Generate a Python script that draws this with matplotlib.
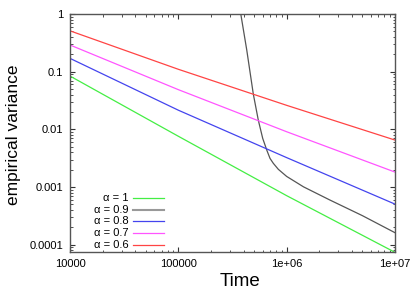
import numpy as np
import matplotlib
matplotlib.use("Agg")
import matplotlib.pyplot as plt
from matplotlib.ticker import FixedLocator, LogLocator, NullFormatter

plt.rcParams['font.family'] = ['Liberation Sans', 'DejaVu Sans']

# data (time, empirical variance)
t_lines = [1e4, 1e5, 1e6, 1e7]
var_a10 = [0.084, 0.0076, 0.00071, 0.000074]
var_a08 = [0.17, 0.0215, 0.00324, 0.000507]
var_a07 = [0.29, 0.0488, 0.0091, 0.00182]
var_a06 = [0.51, 0.110, 0.0261, 0.00653]

t_a09 = [3.77e5, 4.28e5, 4.92e5, 5.47e5, 6.01e5, 6.55e5, 7.02e5, 7.53e5,
         8.38e5, 1.0e6, 1.43e6, 2.51e6, 5.0e6, 1e7]
var_a09 = [1.0, 0.238, 0.041, 0.0145, 0.00698, 0.00438, 0.00314, 0.00258,
           0.00203, 0.00153, 0.00101, 0.000596, 0.00032, 0.000162]

labels = ['α = 1', 'α = 0.9', 'α = 0.8', 'α = 0.7', 'α = 0.6']
colors = ['#44ee44', '#555555', '#4444ee', '#ff55ff', '#ff4444']

xticks = [1e4, 1e5, 1e6, 1e7]
xticklabels = ['10000', '100000', '1e+06', '1e+07']
yticks = [1e-4, 1e-3, 1e-2, 1e-1, 1]
yticklabels = ['0.0001', '0.001', '0.01', '0.1', '1']

fig = plt.figure(figsize=(4.15, 2.91), dpi=100)
ax = fig.add_axes([0.1687, 0.134, 0.7831, 0.818])

series = [(t_lines, var_a10), (t_a09, var_a09), (t_lines, var_a08),
          (t_lines, var_a07), (t_lines, var_a06)]
for (t, v), c in zip(series, colors):
    ax.plot(t, v, color=c, lw=0.9)

ax.set_xscale('log')
ax.set_yscale('log')
ax.set_xlim(1e4, 1e7)
ax.set_ylim(7.5e-5, 1)

ax.xaxis.set_major_locator(FixedLocator(xticks))
ax.set_xticklabels(xticklabels)
ax.yaxis.set_major_locator(FixedLocator(yticks))
ax.set_yticklabels(yticklabels)
for a in (ax.xaxis, ax.yaxis):
    a.set_minor_locator(LogLocator(base=10, subs=np.arange(2, 10)))
    a.set_minor_formatter(NullFormatter())

ax.tick_params(which='both', direction='in', top=True, right=True,
               colors='#333333', labelcolor='black', labelsize=8)
ax.tick_params(which='major', length=3.5, width=0.8)
ax.tick_params(which='minor', length=1.8, width=0.6)
ax.tick_params(axis='x', pad=5)
ax.tick_params(axis='y', pad=5)
for s in ax.spines.values():
    s.set_color('#555555')
    s.set_linewidth(1.0)

ax.set_xlabel('Time', fontsize=13.5)
ax.set_ylabel('empirical variance', fontsize=12.5)
ax.xaxis.set_label_coords(0.522, -0.09)
ax.yaxis.set_label_coords(-0.15, 0.494)

# gnuplot-style key: right aligned text, sample line to the right
row_y = [0.227, 0.178, 0.130, 0.079, 0.029]
for lab, c, y in zip(labels, colors, row_y):
    ax.text(0.18, y, lab, transform=ax.transAxes, ha='right', va='center',
            fontsize=8)
    ax.plot([0.194, 0.289], [y, y], transform=ax.transAxes, color=c,
            lw=1.5 if c == '#555555' else 0.9, alpha=0.6 if c == '#555555' else 1)

fig.savefig('out.png', dpi=100)
